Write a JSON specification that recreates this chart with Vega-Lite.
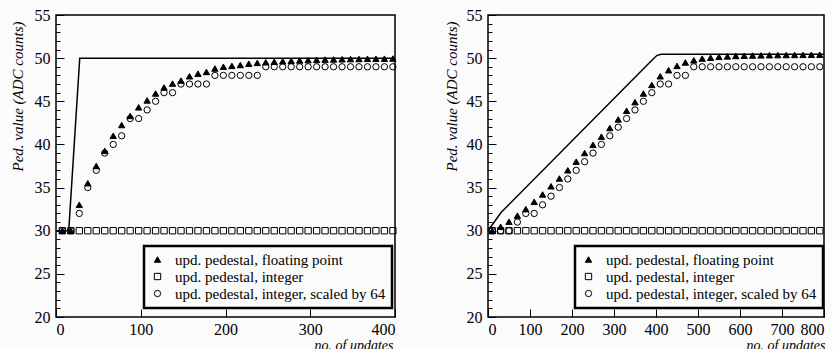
{
"$schema": "https://vega.github.io/schema/vega-lite/v6.json",
"background": "#fbfbfb",
"padding": {"left": 9, "top": 6, "right": 5, "bottom": 0},
"bounds": "flush",
"spacing": 93,
"config": {
 "font": "Liberation Serif, serif",
 "view": {"stroke": "black", "strokeWidth": 1.5},
 "axis": {"grid": false, "domain": false, "labelFont": "Liberation Serif, serif", "labelFontSize": 16, "labelColor": "black", "titleFont": "Liberation Serif, serif", "titleFontSize": 15, "titleFontStyle": "italic", "titleFontWeight": "normal", "titleColor": "black", "tickColor": "black", "tickWidth": 1},
 "legend": {"labelFont": "Liberation Serif, serif", "labelFontSize": 15, "labelColor": "black", "labelLimit": 400, "symbolStrokeColor": "black", "symbolStrokeWidth": 1, "symbolSize": 40, "strokeWidth": 2.5}
},
"datasets": {
 "ll": [{"n":0,"v":30},{"n":15,"v":30},{"n":28,"v":50},{"n":400,"v":50}],
 "rl": [{"n":0,"v":30},{"n":31,"v":32.1},{"n":392,"v":49.85},{"n":402,"v":50.3},{"n":412,"v":50.45},{"n":800,"v":50.45}],
 "lp": [
{"n":7.5,"s":"upd. pedestal, floating point","v":30},{"n":17.5,"s":"upd. pedestal, floating point","v":30},{"n":27.5,"s":"upd. pedestal, floating point","v":33.0},{"n":37.5,"s":"upd. pedestal, floating point","v":35.5},{"n":47.5,"s":"upd. pedestal, floating point","v":37.5},{"n":57.5,"s":"upd. pedestal, floating point","v":39.25},{"n":67.5,"s":"upd. pedestal, floating point","v":41.0},{"n":77.5,"s":"upd. pedestal, floating point","v":42.25},{"n":87.5,"s":"upd. pedestal, floating point","v":43.3},{"n":97.5,"s":"upd. pedestal, floating point","v":44.3},{"n":107.5,"s":"upd. pedestal, floating point","v":45.1},{"n":117.5,"s":"upd. pedestal, floating point","v":45.9},{"n":127.5,"s":"upd. pedestal, floating point","v":46.6},{"n":137.5,"s":"upd. pedestal, floating point","v":47.05},{"n":147.5,"s":"upd. pedestal, floating point","v":47.4},{"n":157.5,"s":"upd. pedestal, floating point","v":47.9},{"n":167.5,"s":"upd. pedestal, floating point","v":48.2},{"n":177.5,"s":"upd. pedestal, floating point","v":48.4},{"n":187.5,"s":"upd. pedestal, floating point","v":48.8},{"n":197.5,"s":"upd. pedestal, floating point","v":49.0},{"n":207.5,"s":"upd. pedestal, floating point","v":49.1},{"n":217.5,"s":"upd. pedestal, floating point","v":49.2},{"n":227.5,"s":"upd. pedestal, floating point","v":49.35},{"n":237.5,"s":"upd. pedestal, floating point","v":49.45},{"n":247.5,"s":"upd. pedestal, floating point","v":49.52},{"n":257.5,"s":"upd. pedestal, floating point","v":49.58},{"n":267.5,"s":"upd. pedestal, floating point","v":49.64},{"n":277.5,"s":"upd. pedestal, floating point","v":49.69},{"n":287.5,"s":"upd. pedestal, floating point","v":49.73},{"n":297.5,"s":"upd. pedestal, floating point","v":49.77},{"n":307.5,"s":"upd. pedestal, floating point","v":49.8},{"n":317.5,"s":"upd. pedestal, floating point","v":49.83},{"n":327.5,"s":"upd. pedestal, floating point","v":49.85},{"n":337.5,"s":"upd. pedestal, floating point","v":49.87},{"n":347.5,"s":"upd. pedestal, floating point","v":49.89},{"n":357.5,"s":"upd. pedestal, floating point","v":49.9},{"n":367.5,"s":"upd. pedestal, floating point","v":49.92},{"n":377.5,"s":"upd. pedestal, floating point","v":49.93},{"n":387.5,"s":"upd. pedestal, floating point","v":49.94},{"n":397.5,"s":"upd. pedestal, floating point","v":49.95},
{"n":7.5,"s":"upd. pedestal, integer","v":30},{"n":17.5,"s":"upd. pedestal, integer","v":30},{"n":27.5,"s":"upd. pedestal, integer","v":30},{"n":37.5,"s":"upd. pedestal, integer","v":30},{"n":47.5,"s":"upd. pedestal, integer","v":30},{"n":57.5,"s":"upd. pedestal, integer","v":30},{"n":67.5,"s":"upd. pedestal, integer","v":30},{"n":77.5,"s":"upd. pedestal, integer","v":30},{"n":87.5,"s":"upd. pedestal, integer","v":30},{"n":97.5,"s":"upd. pedestal, integer","v":30},{"n":107.5,"s":"upd. pedestal, integer","v":30},{"n":117.5,"s":"upd. pedestal, integer","v":30},{"n":127.5,"s":"upd. pedestal, integer","v":30},{"n":137.5,"s":"upd. pedestal, integer","v":30},{"n":147.5,"s":"upd. pedestal, integer","v":30},{"n":157.5,"s":"upd. pedestal, integer","v":30},{"n":167.5,"s":"upd. pedestal, integer","v":30},{"n":177.5,"s":"upd. pedestal, integer","v":30},{"n":187.5,"s":"upd. pedestal, integer","v":30},{"n":197.5,"s":"upd. pedestal, integer","v":30},{"n":207.5,"s":"upd. pedestal, integer","v":30},{"n":217.5,"s":"upd. pedestal, integer","v":30},{"n":227.5,"s":"upd. pedestal, integer","v":30},{"n":237.5,"s":"upd. pedestal, integer","v":30},{"n":247.5,"s":"upd. pedestal, integer","v":30},{"n":257.5,"s":"upd. pedestal, integer","v":30},{"n":267.5,"s":"upd. pedestal, integer","v":30},{"n":277.5,"s":"upd. pedestal, integer","v":30},{"n":287.5,"s":"upd. pedestal, integer","v":30},{"n":297.5,"s":"upd. pedestal, integer","v":30},{"n":307.5,"s":"upd. pedestal, integer","v":30},{"n":317.5,"s":"upd. pedestal, integer","v":30},{"n":327.5,"s":"upd. pedestal, integer","v":30},{"n":337.5,"s":"upd. pedestal, integer","v":30},{"n":347.5,"s":"upd. pedestal, integer","v":30},{"n":357.5,"s":"upd. pedestal, integer","v":30},{"n":367.5,"s":"upd. pedestal, integer","v":30},{"n":377.5,"s":"upd. pedestal, integer","v":30},{"n":387.5,"s":"upd. pedestal, integer","v":30},{"n":397.5,"s":"upd. pedestal, integer","v":30},
{"n":7.5,"s":"upd. pedestal, integer, scaled by 64","v":30},{"n":17.5,"s":"upd. pedestal, integer, scaled by 64","v":30},{"n":27.5,"s":"upd. pedestal, integer, scaled by 64","v":32},{"n":37.5,"s":"upd. pedestal, integer, scaled by 64","v":35},{"n":47.5,"s":"upd. pedestal, integer, scaled by 64","v":37},{"n":57.5,"s":"upd. pedestal, integer, scaled by 64","v":39},{"n":67.5,"s":"upd. pedestal, integer, scaled by 64","v":40},{"n":77.5,"s":"upd. pedestal, integer, scaled by 64","v":41},{"n":87.5,"s":"upd. pedestal, integer, scaled by 64","v":43},{"n":97.5,"s":"upd. pedestal, integer, scaled by 64","v":43},{"n":107.5,"s":"upd. pedestal, integer, scaled by 64","v":44},{"n":117.5,"s":"upd. pedestal, integer, scaled by 64","v":45},{"n":127.5,"s":"upd. pedestal, integer, scaled by 64","v":46},{"n":137.5,"s":"upd. pedestal, integer, scaled by 64","v":46},{"n":147.5,"s":"upd. pedestal, integer, scaled by 64","v":47},{"n":157.5,"s":"upd. pedestal, integer, scaled by 64","v":47},{"n":167.5,"s":"upd. pedestal, integer, scaled by 64","v":47},{"n":177.5,"s":"upd. pedestal, integer, scaled by 64","v":47},{"n":187.5,"s":"upd. pedestal, integer, scaled by 64","v":48},{"n":197.5,"s":"upd. pedestal, integer, scaled by 64","v":48},{"n":207.5,"s":"upd. pedestal, integer, scaled by 64","v":48},{"n":217.5,"s":"upd. pedestal, integer, scaled by 64","v":48},{"n":227.5,"s":"upd. pedestal, integer, scaled by 64","v":48},{"n":237.5,"s":"upd. pedestal, integer, scaled by 64","v":48},{"n":247.5,"s":"upd. pedestal, integer, scaled by 64","v":49},{"n":257.5,"s":"upd. pedestal, integer, scaled by 64","v":49},{"n":267.5,"s":"upd. pedestal, integer, scaled by 64","v":49},{"n":277.5,"s":"upd. pedestal, integer, scaled by 64","v":49},{"n":287.5,"s":"upd. pedestal, integer, scaled by 64","v":49},{"n":297.5,"s":"upd. pedestal, integer, scaled by 64","v":49},{"n":307.5,"s":"upd. pedestal, integer, scaled by 64","v":49},{"n":317.5,"s":"upd. pedestal, integer, scaled by 64","v":49},{"n":327.5,"s":"upd. pedestal, integer, scaled by 64","v":49},{"n":337.5,"s":"upd. pedestal, integer, scaled by 64","v":49},{"n":347.5,"s":"upd. pedestal, integer, scaled by 64","v":49},{"n":357.5,"s":"upd. pedestal, integer, scaled by 64","v":49},{"n":367.5,"s":"upd. pedestal, integer, scaled by 64","v":49},{"n":377.5,"s":"upd. pedestal, integer, scaled by 64","v":49},{"n":387.5,"s":"upd. pedestal, integer, scaled by 64","v":49},{"n":397.5,"s":"upd. pedestal, integer, scaled by 64","v":49}
 ],
 "rp": [
{"n":10,"s":"upd. pedestal, floating point","v":30},{"n":30,"s":"upd. pedestal, floating point","v":30.45},{"n":50,"s":"upd. pedestal, floating point","v":31.05},{"n":70,"s":"upd. pedestal, floating point","v":31.75},{"n":90,"s":"upd. pedestal, floating point","v":32.5},{"n":110,"s":"upd. pedestal, floating point","v":33.35},{"n":130,"s":"upd. pedestal, floating point","v":34.2},{"n":150,"s":"upd. pedestal, floating point","v":35.15},{"n":170,"s":"upd. pedestal, floating point","v":36.05},{"n":190,"s":"upd. pedestal, floating point","v":37.0},{"n":210,"s":"upd. pedestal, floating point","v":38.0},{"n":230,"s":"upd. pedestal, floating point","v":39.0},{"n":250,"s":"upd. pedestal, floating point","v":39.95},{"n":270,"s":"upd. pedestal, floating point","v":40.9},{"n":290,"s":"upd. pedestal, floating point","v":41.9},{"n":310,"s":"upd. pedestal, floating point","v":42.9},{"n":330,"s":"upd. pedestal, floating point","v":43.9},{"n":350,"s":"upd. pedestal, floating point","v":44.9},{"n":370,"s":"upd. pedestal, floating point","v":45.9},{"n":390,"s":"upd. pedestal, floating point","v":46.9},{"n":410,"s":"upd. pedestal, floating point","v":47.9},{"n":430,"s":"upd. pedestal, floating point","v":48.6},{"n":450,"s":"upd. pedestal, floating point","v":49.1},{"n":470,"s":"upd. pedestal, floating point","v":49.5},{"n":490,"s":"upd. pedestal, floating point","v":49.75},{"n":510,"s":"upd. pedestal, floating point","v":49.95},{"n":530,"s":"upd. pedestal, floating point","v":50.05},{"n":550,"s":"upd. pedestal, floating point","v":50.15},{"n":570,"s":"upd. pedestal, floating point","v":50.2},{"n":590,"s":"upd. pedestal, floating point","v":50.25},{"n":610,"s":"upd. pedestal, floating point","v":50.28},{"n":630,"s":"upd. pedestal, floating point","v":50.3},{"n":650,"s":"upd. pedestal, floating point","v":50.32},{"n":670,"s":"upd. pedestal, floating point","v":50.34},{"n":690,"s":"upd. pedestal, floating point","v":50.35},{"n":710,"s":"upd. pedestal, floating point","v":50.36},{"n":730,"s":"upd. pedestal, floating point","v":50.37},{"n":750,"s":"upd. pedestal, floating point","v":50.38},{"n":770,"s":"upd. pedestal, floating point","v":50.39},{"n":790,"s":"upd. pedestal, floating point","v":50.4},
{"n":10,"s":"upd. pedestal, integer","v":30},{"n":30,"s":"upd. pedestal, integer","v":30},{"n":50,"s":"upd. pedestal, integer","v":30},{"n":70,"s":"upd. pedestal, integer","v":30},{"n":90,"s":"upd. pedestal, integer","v":30},{"n":110,"s":"upd. pedestal, integer","v":30},{"n":130,"s":"upd. pedestal, integer","v":30},{"n":150,"s":"upd. pedestal, integer","v":30},{"n":170,"s":"upd. pedestal, integer","v":30},{"n":190,"s":"upd. pedestal, integer","v":30},{"n":210,"s":"upd. pedestal, integer","v":30},{"n":230,"s":"upd. pedestal, integer","v":30},{"n":250,"s":"upd. pedestal, integer","v":30},{"n":270,"s":"upd. pedestal, integer","v":30},{"n":290,"s":"upd. pedestal, integer","v":30},{"n":310,"s":"upd. pedestal, integer","v":30},{"n":330,"s":"upd. pedestal, integer","v":30},{"n":350,"s":"upd. pedestal, integer","v":30},{"n":370,"s":"upd. pedestal, integer","v":30},{"n":390,"s":"upd. pedestal, integer","v":30},{"n":410,"s":"upd. pedestal, integer","v":30},{"n":430,"s":"upd. pedestal, integer","v":30},{"n":450,"s":"upd. pedestal, integer","v":30},{"n":470,"s":"upd. pedestal, integer","v":30},{"n":490,"s":"upd. pedestal, integer","v":30},{"n":510,"s":"upd. pedestal, integer","v":30},{"n":530,"s":"upd. pedestal, integer","v":30},{"n":550,"s":"upd. pedestal, integer","v":30},{"n":570,"s":"upd. pedestal, integer","v":30},{"n":590,"s":"upd. pedestal, integer","v":30},{"n":610,"s":"upd. pedestal, integer","v":30},{"n":630,"s":"upd. pedestal, integer","v":30},{"n":650,"s":"upd. pedestal, integer","v":30},{"n":670,"s":"upd. pedestal, integer","v":30},{"n":690,"s":"upd. pedestal, integer","v":30},{"n":710,"s":"upd. pedestal, integer","v":30},{"n":730,"s":"upd. pedestal, integer","v":30},{"n":750,"s":"upd. pedestal, integer","v":30},{"n":770,"s":"upd. pedestal, integer","v":30},{"n":790,"s":"upd. pedestal, integer","v":30},
{"n":10,"s":"upd. pedestal, integer, scaled by 64","v":30},{"n":30,"s":"upd. pedestal, integer, scaled by 64","v":30},{"n":50,"s":"upd. pedestal, integer, scaled by 64","v":30},{"n":70,"s":"upd. pedestal, integer, scaled by 64","v":31},{"n":90,"s":"upd. pedestal, integer, scaled by 64","v":32},{"n":110,"s":"upd. pedestal, integer, scaled by 64","v":32},{"n":130,"s":"upd. pedestal, integer, scaled by 64","v":33},{"n":150,"s":"upd. pedestal, integer, scaled by 64","v":34},{"n":170,"s":"upd. pedestal, integer, scaled by 64","v":35},{"n":190,"s":"upd. pedestal, integer, scaled by 64","v":36},{"n":210,"s":"upd. pedestal, integer, scaled by 64","v":37},{"n":230,"s":"upd. pedestal, integer, scaled by 64","v":38},{"n":250,"s":"upd. pedestal, integer, scaled by 64","v":39},{"n":270,"s":"upd. pedestal, integer, scaled by 64","v":40},{"n":290,"s":"upd. pedestal, integer, scaled by 64","v":41},{"n":310,"s":"upd. pedestal, integer, scaled by 64","v":42},{"n":330,"s":"upd. pedestal, integer, scaled by 64","v":43},{"n":350,"s":"upd. pedestal, integer, scaled by 64","v":44},{"n":370,"s":"upd. pedestal, integer, scaled by 64","v":45},{"n":390,"s":"upd. pedestal, integer, scaled by 64","v":46},{"n":410,"s":"upd. pedestal, integer, scaled by 64","v":47},{"n":430,"s":"upd. pedestal, integer, scaled by 64","v":47},{"n":450,"s":"upd. pedestal, integer, scaled by 64","v":48},{"n":470,"s":"upd. pedestal, integer, scaled by 64","v":48},{"n":490,"s":"upd. pedestal, integer, scaled by 64","v":49},{"n":510,"s":"upd. pedestal, integer, scaled by 64","v":49},{"n":530,"s":"upd. pedestal, integer, scaled by 64","v":49},{"n":550,"s":"upd. pedestal, integer, scaled by 64","v":49},{"n":570,"s":"upd. pedestal, integer, scaled by 64","v":49},{"n":590,"s":"upd. pedestal, integer, scaled by 64","v":49},{"n":610,"s":"upd. pedestal, integer, scaled by 64","v":49},{"n":630,"s":"upd. pedestal, integer, scaled by 64","v":49},{"n":650,"s":"upd. pedestal, integer, scaled by 64","v":49},{"n":670,"s":"upd. pedestal, integer, scaled by 64","v":49},{"n":690,"s":"upd. pedestal, integer, scaled by 64","v":49},{"n":710,"s":"upd. pedestal, integer, scaled by 64","v":49},{"n":730,"s":"upd. pedestal, integer, scaled by 64","v":49},{"n":750,"s":"upd. pedestal, integer, scaled by 64","v":49},{"n":770,"s":"upd. pedestal, integer, scaled by 64","v":49},{"n":790,"s":"upd. pedestal, integer, scaled by 64","v":49}
 ]
},
"resolve": {"scale": {"x": "independent", "y": "independent", "shape": "independent", "fill": "independent", "stroke": "independent"}, "legend": {"shape": "independent", "fill": "independent", "stroke": "independent"}},
"hconcat": [
 {
  "width": 339, "height": 302,
  "layer": [
   {"data": {"name": "ll"}, "mark": {"type": "line", "color": "black", "strokeWidth": 1.5},
    "encoding": {
     "x": {"field": "n", "type": "quantitative", "scale": {"domain": [0, 400], "nice": false},
       "axis": {"values": [0, 100, 200, 300, 400], "tickSize": -8, "labelPadding": 12, "title": "no. of updates", "titleFontSize": 14, "titleAlign": "right", "titleBaseline": "alphabetic", "titleX": 337, "titleY": 32}},
     "y": {"field": "v", "type": "quantitative", "scale": {"domain": [20, 55], "nice": false, "zero": false},
       "axis": {"orient": "left", "values": [20, 25, 30, 35, 40, 45, 50, 55], "tickSize": -8, "labelPadding": 14, "title": "Ped. value (ADC counts)", "titleAlign": "right", "titleBaseline": "middle", "titleX": -39, "titleY": 6}}
    }},
   {"data": {"name": "lp"}, "mark": {"type": "point", "strokeWidth": 1, "size": 40, "opacity": 1},
    "encoding": {
     "x": {"field": "n", "type": "quantitative"},
     "y": {"field": "v", "type": "quantitative", "axis": {"orient": "left", "values": [21,22,23,24,26,27,28,29,31,32,33,34,36,37,38,39,41,42,43,44,46,47,48,49,51,52,53,54], "tickSize": -4, "labels": false, "title": null}},
     "shape": {"field": "s", "type": "nominal", "scale": {"domain": ["upd. pedestal, floating point", "upd. pedestal, integer", "upd. pedestal, integer, scaled by 64"], "range": ["triangle-up", "square", "circle"]},
       "legend": {"orient": "none", "legendX": 88, "legendY": 231, "title": null, "strokeColor": "black", "padding": 6, "rowPadding": 1, "labelOffset": 10}},
     "fill": {"field": "s", "type": "nominal", "scale": {"domain": ["upd. pedestal, floating point", "upd. pedestal, integer", "upd. pedestal, integer, scaled by 64"], "range": ["black", "transparent", "transparent"]},
       "legend": {"orient": "none", "legendX": 88, "legendY": 231, "title": null, "strokeColor": "black", "padding": 6, "rowPadding": 1, "labelOffset": 10}},
     "stroke": {"field": "s", "type": "nominal", "scale": {"domain": ["upd. pedestal, floating point", "upd. pedestal, integer", "upd. pedestal, integer, scaled by 64"], "range": ["black", "black", "black"]},
       "legend": {"orient": "none", "legendX": 88, "legendY": 231, "title": null, "strokeColor": "black", "padding": 6, "rowPadding": 1, "labelOffset": 10}}
    }}
  ],
  "resolve": {"axis": {"y": "independent"}}
 },
 {
  "width": 336, "height": 302,
  "layer": [
   {"data": {"name": "rl"}, "mark": {"type": "line", "color": "black", "strokeWidth": 1.5},
    "encoding": {
     "x": {"field": "n", "type": "quantitative", "scale": {"domain": [0, 800], "nice": false},
       "axis": {"values": [0, 100, 200, 300, 400, 500, 600, 700, 800], "tickSize": -8, "labelPadding": 12, "title": "no. of updates", "titleFontSize": 14, "titleAlign": "right", "titleBaseline": "alphabetic", "titleX": 337, "titleY": 32}},
     "y": {"field": "v", "type": "quantitative", "scale": {"domain": [20, 55], "nice": false, "zero": false},
       "axis": {"orient": "left", "values": [20, 25, 30, 35, 40, 45, 50, 55], "tickSize": -8, "labelPadding": 14, "title": "Ped. value (ADC counts)", "titleAlign": "right", "titleBaseline": "middle", "titleX": -37, "titleY": 6}}
    }},
   {"data": {"name": "rp"}, "mark": {"type": "point", "strokeWidth": 1, "size": 40, "opacity": 1},
    "encoding": {
     "x": {"field": "n", "type": "quantitative"},
     "y": {"field": "v", "type": "quantitative", "axis": {"orient": "left", "values": [21,22,23,24,26,27,28,29,31,32,33,34,36,37,38,39,41,42,43,44,46,47,48,49,51,52,53,54], "tickSize": -4, "labels": false, "title": null}},
     "shape": {"field": "s", "type": "nominal", "scale": {"domain": ["upd. pedestal, floating point", "upd. pedestal, integer", "upd. pedestal, integer, scaled by 64"], "range": ["triangle-up", "square", "circle"]},
       "legend": {"orient": "none", "legendX": 87, "legendY": 231, "title": null, "strokeColor": "black", "padding": 6, "rowPadding": 1, "labelOffset": 10}},
     "fill": {"field": "s", "type": "nominal", "scale": {"domain": ["upd. pedestal, floating point", "upd. pedestal, integer", "upd. pedestal, integer, scaled by 64"], "range": ["black", "transparent", "transparent"]},
       "legend": {"orient": "none", "legendX": 87, "legendY": 231, "title": null, "strokeColor": "black", "padding": 6, "rowPadding": 1, "labelOffset": 10}},
     "stroke": {"field": "s", "type": "nominal", "scale": {"domain": ["upd. pedestal, floating point", "upd. pedestal, integer", "upd. pedestal, integer, scaled by 64"], "range": ["black", "black", "black"]},
       "legend": {"orient": "none", "legendX": 87, "legendY": 231, "title": null, "strokeColor": "black", "padding": 6, "rowPadding": 1, "labelOffset": 10}}
    }}
  ],
  "resolve": {"axis": {"y": "independent"}}
 }
]
}
